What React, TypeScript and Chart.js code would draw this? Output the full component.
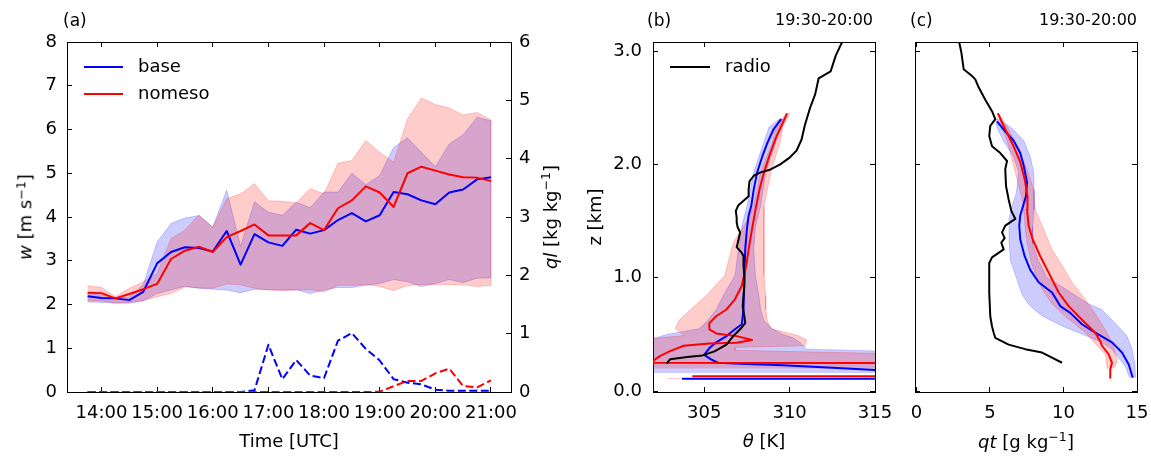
import React, { useEffect, useRef } from 'react';
import { Chart, registerables } from 'chart.js';
Chart.register(...registerables);

const FONT = 'DejaVu Sans';

// ---------- Panel (a): time series ----------
const timeH = [13.75, 14, 14.25, 14.5, 14.75, 15, 15.25, 15.5, 15.75, 16, 16.25, 16.5, 16.75, 17, 17.25, 17.5, 17.75, 18, 18.25, 18.5, 18.75, 19, 19.25, 19.5, 19.75, 20, 20.25, 20.5, 20.75, 21];
const timeTicks = [14, 15, 16, 17, 18, 19, 20, 21];
const wTicks = [0, 1, 2, 3, 4, 5, 6, 7, 8];
const qlTicks = [0, 1, 2, 3, 4, 5, 6];
const baseW = [2.19, 2.15, 2.14, 2.10, 2.29, 2.94, 3.20, 3.31, 3.29, 3.21, 3.68, 2.91, 3.61, 3.42, 3.34, 3.71, 3.62, 3.70, 3.93, 4.09, 3.90, 4.04, 4.57, 4.52, 4.38, 4.29, 4.56, 4.63, 4.86, 4.91];
const nomesoW = [2.27, 2.26, 2.14, 2.24, 2.35, 2.47, 3.04, 3.23, 3.32, 3.20, 3.54, 3.68, 3.83, 3.58, 3.58, 3.58, 3.86, 3.70, 4.20, 4.38, 4.70, 4.56, 4.23, 5.00, 5.15, 5.06, 4.97, 4.91, 4.90, 4.82];
const baseWLo = [2.06, 2.05, 2.03, 2.03, 2.08, 2.25, 2.33, 2.42, 2.37, 2.35, 2.33, 2.27, 2.35, 2.34, 2.33, 2.34, 2.25, 2.33, 2.39, 2.39, 2.44, 2.48, 2.57, 2.52, 2.41, 2.48, 2.57, 2.50, 2.60, 2.61];
const baseWHi = [2.25, 2.22, 2.15, 2.17, 2.45, 3.43, 3.85, 3.98, 4.03, 3.77, 4.61, 3.33, 4.35, 4.11, 4.04, 4.34, 4.21, 4.57, 4.57, 5.00, 4.74, 4.95, 5.59, 5.81, 5.48, 5.15, 5.67, 5.88, 6.28, 6.20];
const nomesoWLo = [2.09, 2.08, 2.04, 2.05, 2.09, 2.18, 2.25, 2.40, 2.38, 2.37, 2.47, 2.45, 2.37, 2.33, 2.32, 2.33, 2.34, 2.29, 2.44, 2.44, 2.46, 2.41, 2.32, 2.43, 2.46, 2.46, 2.46, 2.45, 2.41, 2.44];
const nomesoWHi = [2.43, 2.39, 2.18, 2.37, 2.52, 2.71, 3.51, 3.70, 4.05, 3.76, 4.42, 4.53, 4.76, 4.37, 4.36, 4.32, 4.65, 4.53, 5.23, 5.29, 5.75, 5.48, 5.25, 6.24, 6.72, 6.57, 6.49, 6.33, 6.39, 6.22];
const baseQl = [0, 0, 0, 0, 0, 0, 0, 0, 0, 0, 0, 0, 0.03, 0.81, 0.22, 0.55, 0.28, 0.24, 0.88, 1.01, 0.74, 0.54, 0.22, 0.16, 0.13, 0.04, 0.02, 0.02, 0.02, 0.02];
const nomesoQl = [0, 0, 0, 0, 0, 0, 0, 0, 0, 0, 0, 0, 0, 0, 0, 0, 0, 0, 0, 0, 0, 0.005, 0.10, 0.19, 0.19, 0.32, 0.40, 0.10, 0.08, 0.20];

// ---------- Panel (b): theta profiles ----------
const zTicks = [0, 1, 2, 3];
const thetaTicks = [305, 310, 315];
const radioZ = [0.245, 0.28, 0.30, 0.315, 0.35, 0.41, 0.485, 0.545, 0.60, 0.66, 0.75, 0.84, 0.93, 1.02, 1.10, 1.19, 1.22, 1.27, 1.33, 1.40, 1.45, 1.49, 1.53, 1.59, 1.64, 1.68, 1.72, 1.78, 1.85, 1.90, 1.93, 1.95, 2.00, 2.06, 2.12, 2.22, 2.35, 2.50, 2.62, 2.76, 2.82, 2.96, 3.10, 3.20];
const radioTheta = [302.8, 303.0, 304.0, 304.9, 305.6, 306.3, 306.7, 307.1, 307.4, 307.35, 307.25, 307.3, 307.35, 307.35, 307.3, 307.3, 307.2, 306.9, 307.0, 307.1, 306.95, 306.9, 306.9, 306.85, 307.0, 307.3, 307.6, 307.6, 307.65, 307.9, 308.3, 308.8, 309.45, 310.0, 310.4, 310.7, 310.9, 311.2, 311.5, 311.7, 312.4, 312.7, 313.14, 313.5];
const thetaBaseZ = [0.11, 0.11, 0.14, 0.185, 0.207, 0.227, 0.238, 0.25, 0.28, 0.32, 0.38, 0.43, 0.485, 0.545, 0.59, 0.72, 1.02, 1.25, 1.43, 1.55, 1.63, 1.78, 1.93, 2.07, 2.19, 2.31, 2.40];
const thetaBase = [303.7, 340, 340, 315, 312.5, 309.6, 307.5, 305.8, 305.4, 305.0, 305.3, 305.7, 306.3, 306.8, 307.2, 307.3, 307.35, 307.4, 307.5, 307.6, 307.75, 307.9, 308.1, 308.4, 308.7, 309.06, 309.5];
const thetaNomesoZ = [0.132, 0.132, 0.244, 0.25, 0.265, 0.309, 0.353, 0.40, 0.42, 0.427, 0.45, 0.485, 0.509, 0.545, 0.60, 0.66, 0.72, 0.81, 0.93, 1.10, 1.25, 1.43, 1.63, 1.78, 1.93, 2.07, 2.22, 2.35, 2.45];
const thetaNomeso = [304.3, 340, 340, 300, 302.0, 302.4, 303.0, 303.8, 305.3, 306.9, 307.8, 306.9, 305.7, 305.3, 305.3, 305.7, 306.3, 306.8, 307.2, 307.45, 307.6, 307.8, 308.04, 308.24, 308.5, 308.8, 309.16, 309.55, 309.85];
const thetaBaseLoZ = [0.16, 0.44, 0.47, 0.50, 0.55, 0.62, 0.72, 0.84, 1.02, 1.25, 1.45, 1.63, 1.93, 2.20, 2.33, 2.40];
const thetaBaseLo = [300.5, 301.0, 302.2, 302.8, 304.7, 305.2, 305.7, 306.1, 306.8, 307.0, 307.2, 307.5, 307.9, 308.5, 308.8, 309.4];
const thetaBaseHiZ = [0.16, 0.35, 0.37, 0.43, 0.47, 0.50, 0.55, 0.62, 0.72, 0.84, 1.02, 1.25, 1.45, 1.63, 1.93, 2.20, 2.33, 2.40];
const thetaBaseHi = [316, 316, 311.0, 310.6, 310.2, 309.6, 309.0, 308.5, 308.3, 308.2, 308.0, 307.9, 308.0, 308.3, 308.6, 309.2, 309.4, 309.6];
const thetaNomesoLoZ = [0.20, 0.45, 0.49, 0.52, 0.55, 0.62, 0.72, 0.84, 1.02, 1.31, 1.50, 1.63, 1.93, 2.20, 2.33, 2.45];
const thetaNomesoLo = [300.5, 301.0, 303.8, 303.6, 303.3, 303.5, 304.2, 305.1, 306.2, 306.7, 307.5, 307.9, 308.3, 309.0, 309.2, 309.8];
const thetaNomesoHiZ = [0.20, 0.33, 0.36, 0.385, 0.40, 0.45, 0.49, 0.55, 0.62, 0.72, 0.84, 1.02, 1.31, 1.50, 1.63, 1.93, 2.20, 2.33, 2.45];
const thetaNomesoHi = [316, 316, 306.8, 306.8, 310.9, 311.0, 310.5, 308.9, 308.7, 308.6, 308.6, 308.5, 308.5, 308.5, 308.5, 308.9, 309.45, 309.6, 310.0];
const thetaNomesoSurfZ = [0.104, 0.116];
const thetaNomesoSurf = [302.8, 340];

// ---------- Panel (c): qt profiles ----------
const qtTicks = [0, 5, 10, 15];
const radioQtZ = [0.25, 0.295, 0.34, 0.37, 0.41, 0.47, 0.515, 0.57, 0.66, 0.87, 1.13, 1.18, 1.25, 1.31, 1.35, 1.40, 1.46, 1.52, 1.59, 1.69, 1.81, 1.96, 2.03, 2.10, 2.16, 2.25, 2.34, 2.40, 2.47, 2.57, 2.68, 2.75, 2.78, 2.84, 2.99, 3.10, 3.20];
const radioQt = [9.9, 9.22, 8.54, 7.40, 6.27, 5.36, 5.25, 5.14, 5.02, 4.95, 4.95, 5.14, 5.93, 5.77, 6.0, 5.82, 6.04, 6.72, 6.45, 6.27, 6.09, 6.04, 6.16, 5.70, 5.14, 4.95, 5.02, 5.36, 5.14, 4.68, 4.23, 4.0, 3.78, 3.21, 3.05, 2.87, 2.8];
const qtBaseZ = [0.118, 0.235, 0.34, 0.43, 0.515, 0.59, 0.69, 0.75, 0.87, 0.96, 1.07, 1.19, 1.34, 1.46, 1.55, 1.65, 1.72, 1.84, 1.99, 2.10, 2.21, 2.29, 2.38];
const qtBase = [14.71, 14.44, 13.98, 13.3, 12.16, 11.26, 10.46, 9.78, 9.22, 8.31, 7.74, 7.36, 7.06, 6.99, 7.06, 7.29, 7.45, 7.52, 7.29, 7.06, 6.61, 6.04, 5.48];
const qtNomesoZ = [0.118, 0.19, 0.25, 0.325, 0.40, 0.44, 0.515, 0.63, 0.75, 0.87, 1.045, 1.19, 1.34, 1.46, 1.60, 1.72, 1.87, 2.02, 2.16, 2.31, 2.45];
const qtNomeso = [13.23, 13.18, 13.3, 13.07, 12.62, 12.5, 12.16, 11.26, 10.35, 9.67, 8.99, 8.42, 7.9, 7.63, 7.52, 7.55, 7.36, 7.06, 6.61, 6.04, 5.54];
const qtBaseLoZ = [0.12, 0.22, 0.30, 0.37, 0.43, 0.49, 0.575, 0.66, 0.72, 0.77, 0.85, 0.92, 1.00, 1.15, 1.30, 1.45, 1.52, 1.63, 1.75, 1.93, 2.07, 2.21, 2.32, 2.40];
const qtBaseLo = [14.5, 14.2, 13.7, 13.3, 12.6, 11.5, 9.9, 8.6, 8.0, 7.6, 7.2, 7.0, 6.8, 6.4, 6.3, 6.3, 6.3, 6.5, 6.8, 6.95, 6.6, 5.9, 5.5, 5.35];
const qtBaseHiZ = [0.12, 0.25, 0.37, 0.49, 0.60, 0.72, 0.77, 0.87, 1.00, 1.15, 1.30, 1.45, 1.60, 1.78, 1.93, 2.07, 2.21, 2.32, 2.40];
const qtBaseHi = [14.9, 14.85, 14.66, 14.3, 13.5, 12.6, 11.7, 10.5, 8.9, 8.3, 7.9, 7.9, 8.0, 8.0, 7.97, 7.74, 7.29, 6.5, 5.55];
const qtNomesoLoZ = [0.20, 0.22, 0.32, 0.40, 0.515, 0.66, 0.77, 0.90, 1.11, 1.31, 1.43, 1.60, 1.69, 1.84, 1.99, 2.16, 2.31, 2.45];
const qtNomesoLo = [13.0, 12.96, 12.85, 12.3, 11.5, 10.1, 9.22, 8.54, 7.86, 7.52, 7.4, 7.29, 7.2, 6.9, 6.6, 6.27, 5.9, 5.5];
const qtNomesoHiZ = [0.20, 0.25, 0.32, 0.43, 0.54, 0.66, 0.81, 0.96, 1.11, 1.25, 1.43, 1.60, 1.78, 1.96, 2.13, 2.31, 2.45];
const qtNomesoHi = [13.4, 13.64, 13.57, 13.3, 12.85, 12.28, 11.48, 10.58, 9.9, 9.22, 8.65, 8.08, 7.97, 7.52, 6.95, 6.27, 5.6];

// ---------- helpers ----------
const BLUE = '#0000ff';
const RED = '#ff0000';
const TICK_SIZE = 18;
const pts = (xs: number[], ys: number[]) => xs.map((x, i) => ({ x, y: ys[i] }));
const timePolygon = (t: number[], lo: number[], hi: number[]) =>
  [...pts(t, lo), ...pts(t, hi).reverse()];
const profilePolygon = (loX: number[], loZ: number[], hiX: number[], hiZ: number[]) =>
  [...pts(loX, loZ), ...pts(hiX, hiZ).reverse()];

const lineDs = (data: any[], color: string, extra: any = {}) => ({
  data, borderColor: color, backgroundColor: color, borderWidth: 2, pointRadius: 0,
  fill: false, tension: 0, borderJoinStyle: 'round', borderCapStyle: 'butt', ...extra,
});
const bandDs = (data: any[], rgb: string, extra: any = {}) => ({
  data, borderColor: `rgba(${rgb},0.2)`, backgroundColor: `rgba(${rgb},0.2)`, borderWidth: 1,
  pointRadius: 0, fill: 'shape', tension: 0, ...extra,
});

const fixSize = (size: number) => (scale: any) => {
  if (scale.isHorizontal()) scale.height = size; else scale.width = size;
  scale.paddingLeft = 0; scale.paddingRight = 0; scale.paddingTop = 0; scale.paddingBottom = 0;
};

const axis = (position: string, min: number, max: number, ticks: number[], labels: boolean, pad: number, size: number, fmt?: (v: number) => string) => ({
  type: 'linear',
  axis: position === 'top' || position === 'bottom' ? 'x' : 'y',
  position, min, max, bounds: 'data',
  afterBuildTicks: (s: any) => { s.ticks = ticks.map((v) => ({ value: v })); },
  afterFit: fixSize(size),
  grid: { display: true, drawOnChartArea: false, drawTicks: true, tickLength: -5, tickWidth: 1, tickColor: '#000', color: '#000', lineWidth: 1 },
  border: { display: true, color: '#000', width: 1 },
  ticks: {
    display: labels, padding: pad, color: '#000', font: { family: FONT, size: TICK_SIZE },
    maxRotation: 0, minRotation: 0, autoSkip: false,
    callback: (v: any) => (fmt ? fmt(Number(v)) : String(v)),
  },
});

const baseOptions = (padding: any, scales: any) => ({
  responsive: false, animation: false, devicePixelRatio: 1, events: [],
  layout: { padding },
  plugins: { legend: { display: false }, tooltip: { enabled: false }, title: { display: false } },
  scales,
});

// mpl draw order -> Chart.js draws index 0 on top, so reverse
const ordered = (list: any[]) => list.slice().reverse();

function configA(): any {
  const datasets = ordered([
    bandDs(timePolygon(timeH, baseWLo, baseWHi), '0,0,255', { xAxisID: 'x', yAxisID: 'y' }),
    bandDs(timePolygon(timeH, nomesoWLo, nomesoWHi), '255,0,0', { xAxisID: 'x', yAxisID: 'y' }),
    lineDs(pts(timeH, baseW), BLUE, { xAxisID: 'x', yAxisID: 'y' }),
    lineDs(pts(timeH, nomesoW), RED, { xAxisID: 'x', yAxisID: 'y' }),
    lineDs(pts(timeH, baseQl), BLUE, { xAxisID: 'x', yAxisID: 'y1', borderDash: [8, 3.5] }),
    lineDs(pts(timeH, nomesoQl), RED, { xAxisID: 'x', yAxisID: 'y1', borderDash: [8, 3.5] }),
  ]);
  return {
    type: 'line',
    data: { datasets },
    options: baseOptions({ left: 5, right: 600, top: 32, bottom: 24 }, {
      x: axis('bottom', 13.38, 21.36, timeTicks, true, 16, 40, (v) => `${v}:00`),
      xTop: axis('top', 13.38, 21.36, timeTicks, false, 4, 10),
      y: axis('left', 0, 8, wTicks, true, 15, 62),
      y1: axis('right', 0, 6, qlTicks, true, 13, 40),
    }),
  };
}

function configB(): any {
  const datasets = ordered([
    bandDs(profilePolygon(thetaBaseLo, thetaBaseLoZ, thetaBaseHi, thetaBaseHiZ), '0,0,255'),
    bandDs(profilePolygon(thetaNomesoLo, thetaNomesoLoZ, thetaNomesoHi, thetaNomesoHiZ), '255,0,0'),
    bandDs(profilePolygon(thetaNomesoSurf, [thetaNomesoSurfZ[0], thetaNomesoSurfZ[0]], thetaNomesoSurf, [thetaNomesoSurfZ[1], thetaNomesoSurfZ[1]]), '255,0,0', { borderWidth: 0 }),
    lineDs(pts(thetaBase, thetaBaseZ), BLUE),
    lineDs(pts(thetaNomeso, thetaNomesoZ), RED),
    lineDs(pts(radioTheta, radioZ), '#000000'),
  ]);
  return {
    type: 'line',
    data: { datasets },
    options: baseOptions({ left: 603, right: 266, top: 32, bottom: 24 }, {
      x: axis('bottom', 302, 315, thetaTicks, true, 16, 40),
      xTop: axis('top', 302, 315, thetaTicks, false, 4, 10),
      y: axis('left', -0.008, 3.08, zTicks, true, 16, 50, (v) => v.toFixed(1)),
      yR: axis('right', -0.008, 3.08, zTicks, false, 4, 10),
    }),
  };
}

function configC(): any {
  const datasets = ordered([
    bandDs(profilePolygon(qtBaseLo, qtBaseLoZ, qtBaseHi, qtBaseHiZ), '0,0,255'),
    bandDs(profilePolygon(qtNomesoLo, qtNomesoLoZ, qtNomesoHi, qtNomesoHiZ), '255,0,0'),
    lineDs(pts(qtBase, qtBaseZ), BLUE),
    lineDs(pts(qtNomeso, qtNomesoZ), RED),
    lineDs(pts(radioQt, radioQtZ), '#000000'),
  ]);
  return {
    type: 'line',
    data: { datasets },
    options: baseOptions({ left: 905, right: 4, top: 32, bottom: 24 }, {
      x: axis('bottom', -0.1, 15, qtTicks, true, 16, 40),
      xTop: axis('top', -0.1, 15, qtTicks, false, 4, 10),
      y: axis('left', -0.008, 3.08, zTicks, false, 4, 10),
      yR: axis('right', -0.008, 3.08, zTicks, false, 4, 10),
    }),
  };
}

type TxtProps = { x: number; y: number; anchor?: 'left' | 'center' | 'right'; rotate?: boolean; size?: number; children: React.ReactNode };
const Txt = ({ x, y, anchor = 'center', rotate = false, size = 18, children }: TxtProps) => {
  const tx = anchor === 'left' ? '0' : anchor === 'right' ? '-100%' : '-50%';
  return (
    <div style={{
      position: 'absolute', left: x, top: y, whiteSpace: 'nowrap', lineHeight: 1,
      fontFamily: FONT, fontSize: size, color: '#000',
      transform: `translate(${tx}, -50%)${rotate ? ' rotate(-90deg)' : ''}`,
      transformOrigin: rotate ? 'center center' : undefined,
    }}>{children}</div>
  );
};
const Sup = ({ children }: { children: React.ReactNode }) => (
  <span style={{ fontSize: '0.7em', verticalAlign: '0.5em' }}>{children}</span>
);
const LegendLine = ({ x1, x2, y, color }: { x1: number; x2: number; y: number; color: string }) => (
  <div style={{ position: 'absolute', left: x1, top: y - 1, width: x2 - x1, height: 2, background: color }} />
);

export default function App() {
  const refA = useRef<HTMLCanvasElement>(null);
  const refB = useRef<HTMLCanvasElement>(null);
  const refC = useRef<HTMLCanvasElement>(null);
  useEffect(() => {
    const charts = [
      new Chart(refA.current as HTMLCanvasElement, configA()),
      new Chart(refB.current as HTMLCanvasElement, configB()),
      new Chart(refC.current as HTMLCanvasElement, configC()),
    ];
    return () => charts.forEach((c) => c.destroy());
  }, []);
  const cv: React.CSSProperties = { position: 'absolute', left: 0, top: 0, width: 1151, height: 456 };
  return (
    <div style={{ position: 'absolute', left: 0, top: 0, width: 1151, height: 456, background: '#fff', overflow: 'hidden' }}>
      <canvas ref={refA} width={1151} height={456} style={cv} />
      <canvas ref={refB} width={1151} height={456} style={cv} />
      <canvas ref={refC} width={1151} height={456} style={cv} />

      <Txt x={63} y={20} anchor="left" size={17}>(a)</Txt>
      <LegendLine x1={84} x2={123} y={67} color={BLUE} />
      <Txt x={138} y={66} anchor="left">base</Txt>
      <LegendLine x1={84} x2={123} y={94} color={RED} />
      <Txt x={138} y={93} anchor="left">nomeso</Txt>
      <Txt x={25} y={217} rotate><i>w</i> [m s<Sup>−1</Sup>]</Txt>
      <Txt x={550} y={217} rotate><i>ql</i> [kg kg<Sup>−1</Sup>]</Txt>
      <Txt x={289} y={441}>Time [UTC]</Txt>

      <Txt x={647} y={20} anchor="left" size={17}>(b)</Txt>
      <Txt x={873} y={20} anchor="right" size={16}>19:30-20:00</Txt>
      <LegendLine x1={670} x2={710} y={67} color="#000" />
      <Txt x={725} y={66} anchor="left">radio</Txt>
      <Txt x={595} y={217} rotate>z [km]</Txt>
      <Txt x={764} y={441}><i>θ</i> [K]</Txt>

      <Txt x={910} y={20} anchor="left" size={17}>(c)</Txt>
      <Txt x={1137} y={20} anchor="right" size={16}>19:30-20:00</Txt>
      <Txt x={1026} y={441}><i>qt</i> [g kg<Sup>−1</Sup>]</Txt>
    </div>
  );
}
